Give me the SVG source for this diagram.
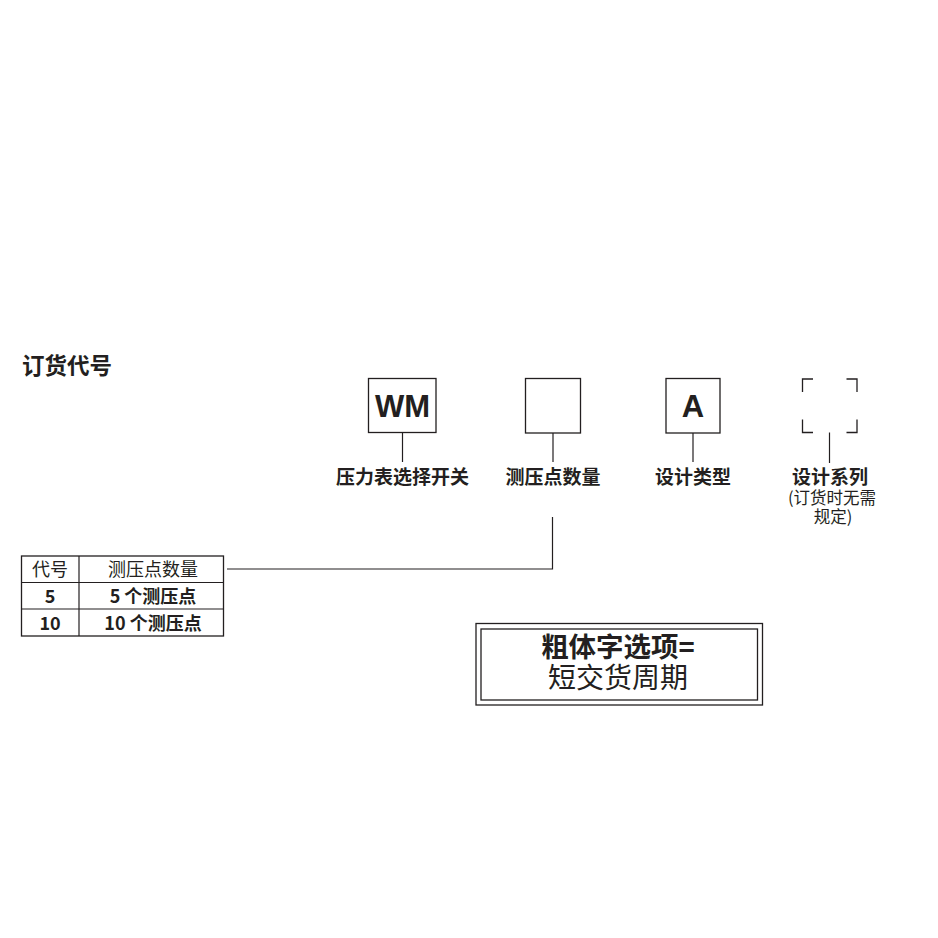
<svg xmlns="http://www.w3.org/2000/svg" width="938" height="938" viewBox="0 0 938 938">
<style>
text{font-family:"Noto Sans CJK SC","Liberation Sans",sans-serif;fill:#231f20;}
.b{font-weight:bold;}
.lbl{font-size:19px;font-weight:bold;text-anchor:middle;}
.sub{font-size:16.5px;text-anchor:middle;}
.box{fill:none;stroke:#231f20;stroke-width:1.3;}
.ln{fill:none;stroke:#231f20;stroke-width:1.2;}
.code{font-family:"Liberation Sans","Noto Sans CJK SC",sans-serif;font-weight:bold;font-size:31px;text-anchor:middle;}
.td{font-size:18px;text-anchor:middle;}
</style>
<rect width="938" height="938" fill="#ffffff"/>
<text id="title" x="22" y="374" class="b" font-size="22.5">订货代号</text>

<g id="node-wm">
<rect class="box" x="368.5" y="378.5" width="67.5" height="54"/>
<text class="code" x="402.5" y="417">WM</text>
<text class="lbl" x="402.5" y="484">压力表选择开关</text>
</g>
<g id="node-count">
<rect class="box" x="525.5" y="378.5" width="55" height="54.5"/>
<text class="lbl" x="553" y="484">测压点数量</text>
</g>
<g id="node-design">
<rect class="box" x="666" y="378.5" width="54" height="54.5"/>
<text class="code" x="693" y="417">A</text>
<text class="lbl" x="693" y="484">设计类型</text>
</g>
<g id="node-series">
<path class="box" d="M802.5 392 V379 H813 M846.5 379 H857 V392 M802.5 419.5 V432.5 H813 M846.5 432.5 H857 V419.5"/>
<text class="lbl" x="830" y="484">设计系列</text>
<text class="sub" x="832" y="504">(订货时无需</text>
<text class="sub" x="833" y="523">规定)</text>
</g>

<g id="connectors">
<line class="ln" x1="402.5" y1="432.5" x2="402.5" y2="462"/>
<line class="ln" x1="553" y1="433" x2="553" y2="462"/>
<line class="ln" x1="693" y1="433" x2="693" y2="462"/>
<line class="ln" x1="829.5" y1="432.5" x2="829.5" y2="463"/>
<polyline class="ln" points="552.5,517 552.5,569 227,569"/>
</g>

<g id="table">
<rect class="box" x="21.5" y="556" width="202" height="80"/>
<line class="ln" x1="21.5" y1="582.5" x2="223.5" y2="582.5"/>
<line class="ln" x1="21.5" y1="609" x2="223.5" y2="609"/>
<line class="ln" x1="79" y1="556" x2="79" y2="636"/>
<text class="td" x="50" y="576">代号</text>
<text class="td" x="153" y="576">测压点数量</text>
<text class="td b" x="50" y="602.5">5</text>
<text class="td b" x="153" y="602.5">5 个测压点</text>
<text class="td b" x="50" y="629.5">10</text>
<text class="td b" x="153" y="629.5">10 个测压点</text>
</g>

<g id="legend">
<rect class="box" x="476" y="623.5" width="286.5" height="81.5"/>
<rect class="box" x="481" y="629" width="276.5" height="71"/>
<text x="618" y="657" class="b" font-size="27.5" text-anchor="middle">粗体字选项=</text>
<text x="618" y="688" font-size="28" text-anchor="middle">短交货周期</text>
</g>
</svg>
